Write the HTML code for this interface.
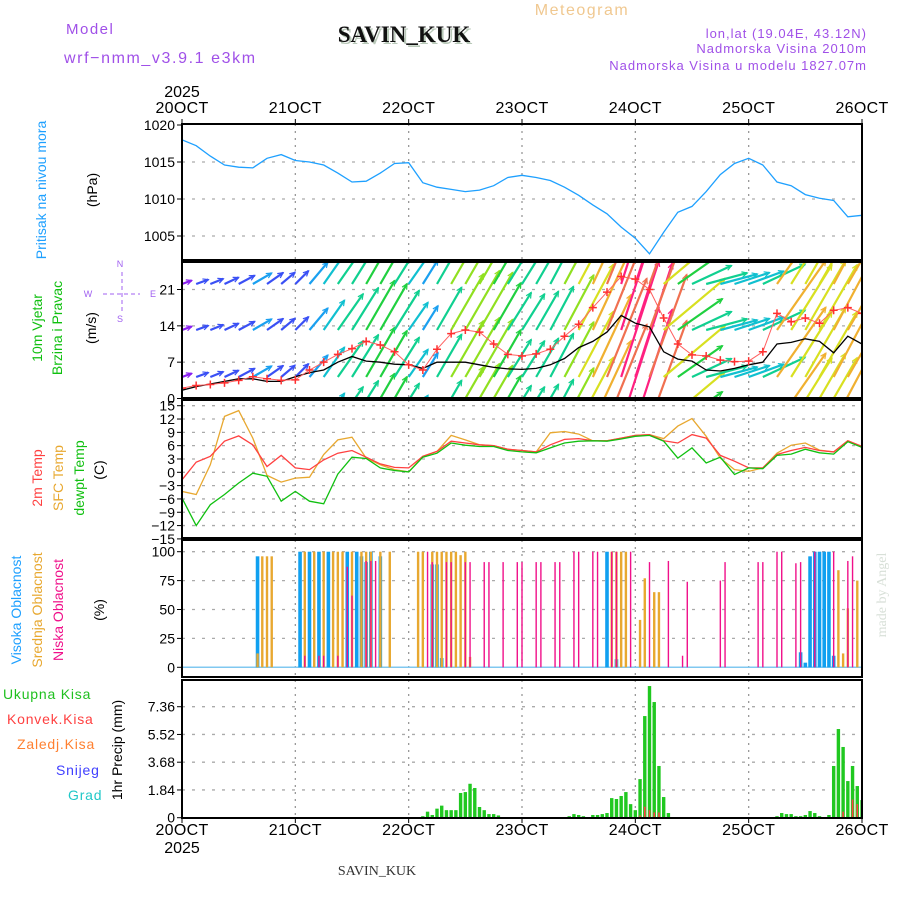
<!DOCTYPE html>
<html><head><meta charset="utf-8"><style>
html,body{margin:0;padding:0;background:#fff;}
svg{display:block;font-family:"Liberation Sans",sans-serif;}
</style></head><body>
<svg id="chart" width="900" height="900" viewBox="0 0 900 900" xmlns="http://www.w3.org/2000/svg">
<text x="66" y="34" font-size="15" fill="#a050e8" letter-spacing="1.5">Model</text>
<text x="64" y="63" font-size="16" fill="#a050e8" letter-spacing="1.6">wrf−nmm_v3.9.1 e3km</text>
<text x="406" y="44" font-size="23" font-weight="bold" font-family="Liberation Serif,serif" fill="#b8c8b8" text-anchor="middle">SAVIN_KUK</text>
<text x="404" y="42" font-size="23" font-weight="bold" font-family="Liberation Serif,serif" fill="#111" text-anchor="middle">SAVIN_KUK</text>
<text x="582" y="15" font-size="16" fill="#f0c890" text-anchor="middle" letter-spacing="1.5">Meteogram</text>
<text x="867" y="38" font-size="13" fill="#a050e8" text-anchor="end" letter-spacing="1">lon,lat (19.04E, 43.12N)</text>
<text x="867" y="53" font-size="13" fill="#a050e8" text-anchor="end" letter-spacing="1">Nadmorska Visina 2010m</text>
<text x="867" y="70" font-size="13" fill="#a050e8" text-anchor="end" letter-spacing="1">Nadmorska Visina u modelu 1827.07m</text>
<text x="377" y="875" font-size="14" font-family="Liberation Serif,serif" fill="#333" text-anchor="middle">SAVIN_KUK</text>
<text transform="translate(886,595) rotate(-90)" font-size="14" font-family="Liberation Serif,serif" fill="#d8e0d8" text-anchor="middle">made by Angel</text>

<text transform="translate(46,190) rotate(-90)" font-size="14" fill="#1ea0ff" text-anchor="middle">Pritisak na nivou mora</text>
<text transform="translate(97,190) rotate(-90)" font-size="14" fill="#000" text-anchor="middle">(hPa)</text>
<text transform="translate(42,328) rotate(-90)" font-size="14" fill="#10c010" text-anchor="middle">10m Vjetar</text>
<text transform="translate(62,328) rotate(-90)" font-size="14" fill="#10c010" text-anchor="middle">Brzina i Pravac</text>
<text transform="translate(96,328) rotate(-90)" font-size="14" fill="#000" text-anchor="middle">(m/s)</text>
<g fill="#a060f0" stroke="#a060f0" font-size="9">
<text x="120" y="267" stroke="none" text-anchor="middle">N</text>
<text x="120" y="322" stroke="none" text-anchor="middle">S</text>
<text x="88" y="297" stroke="none" text-anchor="middle">W</text>
<text x="153" y="297" stroke="none" text-anchor="middle">E</text>
<line x1="103" y1="294" x2="140" y2="294" stroke-dasharray="4,3"/>
<line x1="122" y1="272" x2="122" y2="314" stroke-dasharray="4,3"/>
</g>
<text transform="translate(42,478) rotate(-90)" font-size="14" fill="#ff4040" text-anchor="middle">2m Temp</text>
<text transform="translate(63,478) rotate(-90)" font-size="14" fill="#e8a830" text-anchor="middle">SFC Temp</text>
<text transform="translate(84,478) rotate(-90)" font-size="14" fill="#10c010" text-anchor="middle">dewpt Temp</text>
<text transform="translate(104,470) rotate(-90)" font-size="14" fill="#000" text-anchor="middle">(C)</text>
<text transform="translate(21,610) rotate(-90)" font-size="14" fill="#1ea0ff" text-anchor="middle">Visoka Oblacnost</text>
<text transform="translate(42,610) rotate(-90)" font-size="14" fill="#e8a830" text-anchor="middle">Srednja Oblacnost</text>
<text transform="translate(63,610) rotate(-90)" font-size="14" fill="#f0108a" text-anchor="middle">Niska Oblacnost</text>
<text transform="translate(104,610) rotate(-90)" font-size="14" fill="#000" text-anchor="middle">(%)</text>
<text x="3" y="699" font-size="14" fill="#20c020" letter-spacing="0.8">Ukupna Kisa</text>
<text x="7" y="724" font-size="14" fill="#ff4040" letter-spacing="0.8">Konvek.Kisa</text>
<text x="17" y="749" font-size="14" fill="#ff8030" letter-spacing="0.8">Zaledj.Kisa</text>
<text x="56" y="775" font-size="14" fill="#4040ff" letter-spacing="0.8">Snijeg</text>
<text x="68" y="800" font-size="14" fill="#20c8c8" letter-spacing="0.8">Grad</text>
<text transform="translate(122,750) rotate(-90)" font-size="14" fill="#000" text-anchor="middle">1hr Precip (mm)</text>
<g id="plot"></g>
</svg>
<script>
// ---- data ----
const days = ["20OCT","21OCT","22OCT","23OCT","24OCT","25OCT","26OCT"];
const pressure = [1018,1017.2,1015.8,1014.6,1014.3,1014.2,1015.5,1016,1015.2,1015,1014.6,1013.5,1012.3,1012.4,1013.5,1014.8,1014.9,1012.2,1011.6,1011.3,1011,1011.2,1011.8,1012.9,1013.2,1012.9,1012.5,1011.6,1010.5,1009.2,1008,1006.2,1004.7,1002.6,1005.5,1008.2,1009,1011,1013.3,1014.8,1015.5,1014.6,1012.3,1011.8,1010.6,1010.1,1009.8,1007.6,1007.8];
const windGust = [2,2.5,2.7,3,3.5,4.2,3.8,3.5,3.6,5.5,7,8.5,9.6,11,10.3,9,6.5,5.5,9.5,12.5,13.2,12.8,10.5,8.5,8.2,8.6,9.5,12,14.3,17.5,20.5,23.5,23,21,15.5,10.5,8.4,8.2,7.4,7.1,7.2,9,16.4,14.8,15.5,14.5,17,17.5,16.4];
const windSpeed = [1.6,2.3,2.8,3.3,3.8,3.8,3.3,3.3,4.2,5,5.5,7,8.1,7.2,7,6.6,6.5,5.8,7,7,7,6.5,6,5.7,5.6,5.8,6.5,7.7,9.8,11,12.8,16,14.5,13.8,9,7.6,7.2,5.5,5.3,5.8,6.5,7,10.5,10.8,11.5,11,8.8,12,10.5];
const windDir = [20,20,22,25,28,30,35,40,45,50,55,55,58,60,60,58,55,58,60,60,60,60,60,58,58,60,62,62,62,65,68,72,72,70,40,35,25,15,15,18,20,25,55,58,60,60,62,60,60];
const temp2m = [-1.7,2.3,3.6,7,8.2,6.2,1.3,3.8,1,0.6,2.8,4.3,4.9,3.4,1.9,1.1,1,3.6,4.7,7,6.6,6.2,6,5.2,4.9,4.6,6.2,7.4,7.6,7.1,7.1,7.7,8.3,8.5,7.1,6.6,8.5,7.7,3.8,2.5,1,1,4,4.9,5.6,4.9,4.6,7.1,5.8];
const tempSfc = [-4.3,-5,1.7,12.6,13.9,7.7,-0.7,-2.2,-1.3,-1.1,4,7.3,7.9,3.2,1.7,0.6,0.1,3.6,4.7,8.3,7.3,6.2,6,5.2,4.9,4.6,8.9,9.2,8.6,7.1,7.1,7.7,8.3,8.5,7.6,10.4,12.1,8.1,3.2,0.6,0.2,1,4.3,6.1,6.6,5,4.6,7.1,5.8];
const tempDew = [-5.8,-12,-7.3,-5,-2.4,-0.2,-0.9,-6.5,-4.3,-6.5,-7.1,-0.4,3.4,3.1,1,0.4,0.1,3.4,4.3,6.6,6.1,5.8,5.8,4.9,4.6,4.4,5.5,6.6,7,7.1,7,7.5,8.1,8.3,7,3.2,5.5,2.1,3.4,-0.5,1,0.8,3.8,4.1,5.2,4.4,4.1,6.9,5.6];
const highHours = [16,25,27,29,31,35,37,38,39,40,42,53,54,55,90,92,131,132,133,134,135,136,137,138];
const highVals = [96,100,100,100,100,100,100,96,91,100,96,89,89,8,100,7,13,4,96,100,100,100,100,10];
const midHours = [16,17,18,19,26,28,30,32,33,34,36,38,39,40,42,44,50,51,53,54,55,56,57,58,59,60,61,91,92,93,94,97,98,100,101,139,140,141,143];
const midVals = [12,96,96,96,100,100,100,100,100,100,100,100,100,100,100,100,100,100,100,100,100,100,100,100,97,100,9,100,100,100,100,41,77,65,65,84,12,51,75];
const lowHours = [26,29,30,33,35,36,39,40,41,52,53,56,57,60,61,64,65,68,71,72,75,76,79,80,83,84,87,88,91,92,95,99,103,106,107,114,115,122,123,126,127,130,131,134,138,141,142];
const lowVals = [10,10,10,10,87,62,92,92,92,100,91,91,91,91,91,91,91,91,91,91,91,91,91,91,100,100,100,100,100,100,100,91,92,10,74,75,91,91,91,100,100,90,91,100,100,92,96];
const rainHours = [51,52,53,54,55,56,57,58,59,60,61,62,63,64,65,66,67,82,83,84,85,87,88,89,90,91,92,93,94,95,96,97,98,99,100,101,102,103,126,127,128,129,130,131,132,133,134,135,137,138,139,140,141,142,143,144];
const rainVals = [0.1,0.4,0.18,0.6,0.8,0.5,0.5,0.5,1.64,1.7,2.25,1.97,0.71,0.5,0.24,0.24,0.15,0.1,0.24,0.18,0.1,0.18,0.18,0.24,0.31,1.3,1.24,1.44,1.7,0.9,0.5,2.56,6.74,8.73,7.67,3.43,1.37,0.31,0.1,0.31,0.24,0.24,0.1,0.1,0.18,0.44,0.31,0.1,0.18,3.43,5.88,4.69,2.43,3.43,2.1,1.17];
const convHours = [97,98,99,100,101,140,142,143,144];
const convVals = [0.15,0.73,0.5,0.35,0.35,0.4,1.2,0.9,0.5];
const pTicks = [1005,1010,1015,1020];
const wTicks = [0,7,14,21];
const tTicks = [-15,-12,-9,-6,-3,0,3,6,9,12,15];
const cTicks = [0,25,50,75,100];
const rTicks = [0,1.84,3.68,5.52,7.36];

// ---- layout / scales ----
const X0=182, X1=862, STEP_H=3;
const xHour = h => X0 + (X1-X0)*h/144;
const panels = {
  p:{top:124,bot:260,lin:v=>125+(1020-v)*7.4},
  w:{top:262,bot:398,lin:v=>398.5-v*5.19},
  t:{top:400,bot:538,lin:v=>472.3-v*4.44},
  c:{top:540,bot:677,lin:v=>667.3-v*1.156},
  r:{top:680,bot:818,lin:v=>817.7-v*15.08}
};
const NS="http://www.w3.org/2000/svg";
const plot=document.getElementById('plot');
function mk(tag,attrs,parent){const e=document.createElementNS(NS,tag);for(const k in attrs)e.setAttribute(k,attrs[k]);(parent||plot).appendChild(e);return e;}

const defs=mk('defs',{});
for(const k in panels){const cp=mk('clipPath',{id:'clip-'+k},defs);mk('rect',{x:X0,y:panels[k].top,width:X1-X0,height:panels[k].bot-panels[k].top},cp);}

function grid(k,ticks,fmt){
  const P=panels[k];
  const g=mk('g',{});
  
  
  for(let d=1;d<6;d++){const x=xHour(d*24);mk('line',{x1:x,y1:P.top,x2:x,y2:P.bot,stroke:'#999','stroke-width':1.3,'stroke-dasharray':'2,5'},g);}
  ticks.forEach(v=>{const y=P.lin(v);
    if(y>P.top+2&&y<P.bot-2)mk('line',{x1:X0,y1:y,x2:X1,y2:y,stroke:'#aaa','stroke-width':1.3,'stroke-dasharray':'3,7'},g);
    mk('line',{x1:X0-5,y1:y,x2:X0,y2:y,stroke:'#000','stroke-width':1},g);
    const t=mk('text',{x:X0-7,y:y+5,'font-size':14,'text-anchor':'end',fill:'#000'},g);
    t.textContent=fmt?fmt(v):v;
    
    
  });
}
grid('p',pTicks);grid('w',wTicks);grid('t',tTicks,v=>v<0?'−'+(-v):v);grid('c',cTicks);grid('r',rTicks);

function line(k,arr,color,w,name){
  const P=panels[k];
  const d=arr.map((v,i)=>(i?'L':'M')+xHour(i*STEP_H).toFixed(1)+','+P.lin(v).toFixed(1)).join('');
  const e=mk('path',{d,fill:'none',stroke:color,'stroke-width':w,'clip-path':'url(#clip-'+k+')'});
  
  
  return e;
}
line('p',pressure,'#1ea0ff',1.3,'pressure-line');

function windColor(s){
  const sc=[[2.5,'#8a20f0'],[4,'#3a50f5'],[6,'#1aa0f0'],[8,'#10c0d0'],[10,'#10d090'],[12,'#20d040'],[14,'#90e020'],[16,'#d8e020'],[19,'#f0b030'],[22,'#f07050']];
  for(const [l,c] of sc) if(s<l) return c; return '#ff2080';
}
const wg=mk('g',{'clip-path':'url(#clip-w)'});


const rows=[238,284,330,377,423];
windGust.forEach((s,i)=>{
  const x=xHour(i*STEP_H), a=windDir[i]*Math.PI/180, L=s*5.19, col=windColor(s);
  rows.forEach(b=>{
    const x2=x+L*Math.cos(a), y2=b-L*Math.sin(a);
    const ar=mk('line',{x1:x,y1:b,x2,y2,stroke:col,'stroke-width':2.2},wg);
    
    
    const hx1=x2-6*Math.cos(a-0.45),hy1=y2+6*Math.sin(a-0.45),hx2=x2-6*Math.cos(a+0.45),hy2=y2+6*Math.sin(a+0.45);
    mk('polyline',{points:`${hx1},${hy1} ${x2},${y2} ${hx2},${hy2}`,fill:'none',stroke:col,'stroke-width':1.2},wg);
  });
});
line('w',windSpeed,'#000',1.3,'wind-speed-line');
line('w',windGust,'#ff6060',1,'wind-gust-line');
const gg=mk('g',{'clip-path':'url(#clip-w)'});


windGust.forEach((s,i)=>{const x=xHour(i*STEP_H),y=panels.w.lin(s);
  const m=mk('path',{d:`M${x-4},${y}H${x+4}M${x},${y-4}V${y+4}`,stroke:'#ff3030','stroke-width':1.5},gg);
  
  
});

line('t',tempSfc,'#e8a830',1.3,'sfc-temp-line');
line('t',temp2m,'#ff4040',1.3,'temp-2m-line');
line('t',tempDew,'#10c010',1.3,'dewpoint-line');

function bars(k,hours,vals,color,w,name){
  const P=panels[k],g=mk('g',{'clip-path':'url(#clip-'+k+')'});
  
  
  hours.forEach((h,i)=>{const x=xHour(h),y=P.lin(vals[i]),y0=P.lin(0);
    const r=mk('rect',{x:x-w/2,y,width:w,height:Math.max(0,y0-y),fill:color},g);
    
    
  });
}
mk('line',{x1:X0,y1:panels.c.lin(0),x2:X1,y2:panels.c.lin(0),stroke:'#80c8f0','stroke-width':1.5});
bars('c',highHours,highVals,'#10a0f0',3.6,'high-cloud');
bars('c',midHours,midVals,'#e8a830',2.4,'mid-cloud');
bars('c',lowHours,lowVals,'#f0108a',1.4,'low-cloud');

bars('r',rainHours,rainVals,'#20c820',3.4,'total-precip');
bars('r',convHours,convVals,'#ff4040',1.6,'convective-precip');

for(const k in panels){const P=panels[k];
  const f=mk('rect',{x:X0,y:P.top,width:X1-X0,height:P.bot-P.top,fill:'none',stroke:'#000','stroke-width':2});
  
  
}
days.forEach((d,i)=>{const x=xHour(i*24);
  [[113,124,119],[835,818,823]].forEach(([ty,y1,y2])=>{
    mk('line',{x1:x,y1,x2:x,y2,stroke:'#000','stroke-width':1});
    const t=mk('text',{x,y:ty,'font-size':16,'text-anchor':'middle',fill:'#000','letter-spacing':'0.3'});
    t.textContent=d;
    
    
  });
});
[[97],[853]].forEach(([y])=>{const t=mk('text',{x:X0,y,'font-size':16,'text-anchor':'middle',fill:'#000'});
  t.textContent='2025';
  
  
});
</script>
</body></html>
